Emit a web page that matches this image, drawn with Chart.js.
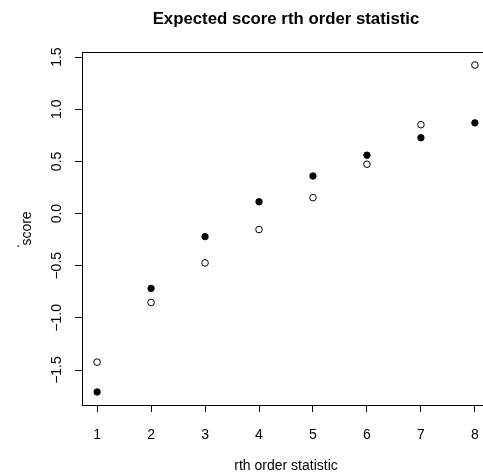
<!DOCTYPE html>
<html>
<head>
<meta charset="utf-8">
<script src="https://cdn.jsdelivr.net/npm/chart.js@4"></script>
<style>
  html, body { margin: 0; padding: 0; background: #fff; overflow: hidden; }
  #wrap { width: 495px; height: 475px; }
</style>
</head>
<body>
<div id="wrap"><canvas id="scoreChart" width="495" height="475"></canvas></div>
<script>
// order statistic index
const ranks = [1, 2, 3, 4, 5, 6, 7, 8];
// open circles
const openScores = [-1.424, -0.852, -0.473, -0.153, 0.153, 0.473, 0.852, 1.424];
// filled circles
const filledScores = [-1.71, -0.717, -0.221, 0.113, 0.36, 0.56, 0.727, 0.87];
const xTicks = [1, 2, 3, 4, 5, 6, 7, 8];
const yTicks = [-1.5, -1.0, -0.5, 0.0, 0.5, 1.0, 1.5];

const font = "'Liberation Sans', Arial, Helvetica, sans-serif";

function toPoints(ys) {
    return ranks.map((r, i) => ({ x: r, y: ys[i] }));
}

// box around the plot region, main title, and the stray dot in the y label
const framePlugin = {
    id: 'frame',
    afterDraw(chart) {
        const a = chart.chartArea;
        const c = chart.ctx;
        c.save();
        c.strokeStyle = '#000';
        c.lineWidth = 1;
        c.strokeRect(Math.round(a.left) + 0.5, Math.round(a.top) + 0.5,
            Math.round(a.right - a.left), Math.round(a.bottom - a.top));
        c.fillStyle = '#000';
        c.font = 'bold 16.8px ' + font;
        c.textAlign = 'center';
        c.textBaseline = 'alphabetic';
        c.fillText('Expected score rth order statistic', (a.left + a.right) / 2, 23.5);
        c.translate(19, 246);
        c.rotate(-Math.PI / 2);
        c.font = '14px ' + font;
        c.fillText('.', 0, 0);
        c.restore();
    }
};

document.addEventListener('DOMContentLoaded', function () {
    const ctx = document.getElementById('scoreChart').getContext('2d');
    new Chart(ctx, {
        type: 'scatter',
        data: {
            datasets: [{
                label: 'open',
                data: toPoints(openScores),
                pointStyle: 'circle',
                pointRadius: 3.3,
                borderWidth: 1,
                borderColor: '#000',
                backgroundColor: 'rgba(255,255,255,0)'
            }, {
                label: 'filled',
                data: toPoints(filledScores),
                pointStyle: 'circle',
                pointRadius: 3.2,
                borderWidth: 1,
                borderColor: '#000',
                backgroundColor: '#000'
            }]
        },
        options: {
            responsive: false,
            animation: false,
            layout: { padding: { top: 52, right: 5, left: 0, bottom: 0 } },
            plugins: {
                legend: { display: false },
                tooltip: { enabled: false },
                title: { display: false }
            },
            scales: {
                x: {
                    type: 'linear',
                    min: 0.72,
                    max: 8.28,
                    afterBuildTicks: s => { s.ticks = xTicks.map(v => ({ value: v })); },
                    afterFit: s => { s.height = 70; },
                    grid: { drawOnChartArea: false, drawTicks: true, tickLength: 7, color: '#000' },
                    border: { display: false },
                    ticks: {
                        color: '#000', padding: 15, maxRotation: 0,
                        font: { family: font, size: 14 }
                    },
                    title: {
                        display: true, text: 'rth order statistic', color: '#000',
                        font: { family: font, size: 14 }, padding: { top: 0, bottom: 0.5 }
                    }
                },
                y: {
                    type: 'linear',
                    min: -1.835,
                    max: 1.549,
                    afterBuildTicks: s => { s.ticks = yTicks.map(v => ({ value: v })); },
                    afterFit: s => { s.width = 82; },
                    grid: { drawOnChartArea: false, drawTicks: true, tickLength: 7, color: '#000' },
                    border: { display: false },
                    ticks: {
                        color: '#000', padding: 4.4, minRotation: 90, maxRotation: 90,
                        crossAlign: 'center',
                        font: { family: font, size: 14 },
                        callback: v => v.toFixed(1).replace('-', '\u2212')
                    },
                    title: {
                        display: true, text: 'score', color: '#000',
                        font: { family: font, size: 14 }, padding: { top: 19, bottom: 0 }
                    }
                }
            }
        },
        plugins: [framePlugin]
    });
});
</script>
</body>
</html>
